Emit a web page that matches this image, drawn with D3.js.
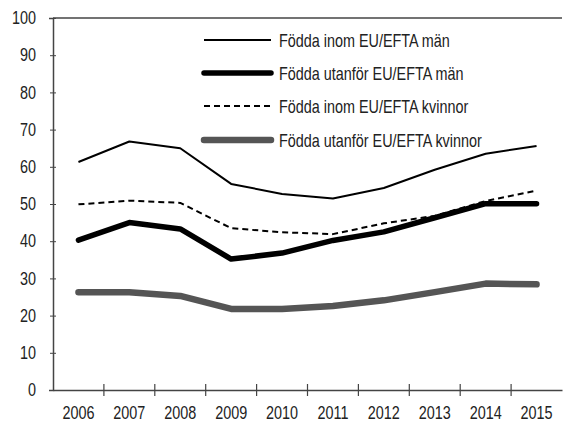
<!DOCTYPE html>
<html>
<head>
<meta charset="utf-8">
<script src="https://cdn.jsdelivr.net/npm/d3@7"></script>
<style>
  body { margin: 0; background: #fff; }
  svg text { font-family: "Liberation Sans", Arial, sans-serif; fill: #222; }
</style>
</head>
<body>
<div id="chart-area"></div>
<script>
// data
var years = ["2006","2007","2008","2009","2010","2011","2012","2013","2014","2015"];
var inomMan      = [61.3, 66.8, 65.0, 55.4, 52.7, 51.5, 54.3, 59.2, 63.5, 65.6];
var utanforMan   = [40.3, 45.0, 43.3, 35.2, 36.8, 40.2, 42.5, 46.3, 50.1, 50.1];
var inomKvinnor  = [49.9, 50.9, 50.3, 43.5, 42.4, 41.9, 44.8, 46.8, 50.8, 53.6];
var utanforKvinnor = [26.3, 26.3, 25.3, 21.8, 21.8, 22.6, 24.1, 26.3, 28.6, 28.4];
var yTicks = [0,10,20,30,40,50,60,70,80,90,100];

var series = [
  {name: "Födda inom EU/EFTA män", values: inomMan, color: "#000", width: 2, dash: null},
  {name: "Födda utanför EU/EFTA män", values: utanforMan, color: "#000", width: 5.5, dash: null},
  {name: "Födda inom EU/EFTA kvinnor", values: inomKvinnor, color: "#000", width: 2, dash: "6,4"},
  {name: "Födda utanför EU/EFTA kvinnor", values: utanforKvinnor, color: "#555", width: 6.5, dash: null}
];

var W = 563, H = 421;
var mLeft = 53, mRight = 562, mTop = 18, mBottom = 390;
var squeeze = 0.8;   // narrow look of the original font

var svg = d3.select("#chart-area")
    .append("svg")
    .attr("width", W)
    .attr("height", H);

var x = d3.scaleBand().domain(years).range([mLeft, mRight]);
var y = d3.scaleLinear().domain([0, 100]).range([mBottom, mTop]);

// top border
svg.append("line")
    .attr("x1", mLeft).attr("x2", mRight)
    .attr("y1", mTop).attr("y2", mTop)
    .attr("stroke", "#444").attr("stroke-width", 1.5);

// y axis
var yAxis = svg.append("g")
    .attr("transform", "translate(" + mLeft + ",0)")
    .call(d3.axisLeft(y).tickValues(yTicks).tickSize(4));
yAxis.select(".domain").attr("stroke", "#444").attr("stroke-width", 1.5);
yAxis.selectAll(".tick line").attr("stroke", "#444").attr("x1", -3).attr("x2", 3);
yAxis.selectAll(".tick text")
    .attr("x", 0)
    .attr("font-size", 18)
    .attr("fill", "#222")
    .attr("transform", "translate(-17,0) scale(" + squeeze + ",1)");
yAxis.attr("font-family", null);

// x axis: ticks between categories
var xAxis = svg.append("g")
    .attr("transform", "translate(0," + mBottom + ")")
    .call(d3.axisBottom(x).tickSize(0));
xAxis.select(".domain").attr("stroke", "#444").attr("stroke-width", 1.5);
xAxis.selectAll(".tick text")
    .attr("y", 0).attr("dy", 0)
    .attr("font-size", 18)
    .attr("fill", "#222")
    .attr("transform", "translate(0,29) scale(" + squeeze + ",1)");
xAxis.selectAll(".sep")
    .data(years.slice(1))
    .enter().append("line")
    .attr("class", "sep")
    .attr("x1", d => x(d)).attr("x2", d => x(d))
    .attr("y1", -6).attr("y2", 6)
    .attr("stroke", "#444").attr("stroke-width", 1.2);
xAxis.attr("font-family", null);

// lines
var line = d3.line()
    .x((d, i) => x(years[i]) + x.bandwidth() / 2)
    .y(d => y(d));

series.forEach(function(s) {
  svg.append("path")
      .datum(s.values)
      .attr("d", line)
      .attr("fill", "none")
      .attr("stroke", s.color)
      .attr("stroke-width", s.width)
      .attr("stroke-dasharray", s.dash)
      .attr("stroke-linecap", s.width > 3 ? "round" : "butt")
      .attr("stroke-linejoin", "round");
});

// legend
var rowY = [40, 73, 106, 140];
series.forEach(function(s, i) {
  svg.append("line")
      .attr("x1", 204).attr("x2", 271)
      .attr("y1", rowY[i]).attr("y2", rowY[i])
      .attr("stroke", s.color)
      .attr("stroke-width", s.width)
      .attr("stroke-dasharray", s.dash)
      .attr("stroke-linecap", s.width > 3 ? "round" : "butt");
  svg.append("text")
      .attr("transform", "translate(279," + (rowY[i] + 7) + ") scale(" + squeeze + ",1)")
      .attr("font-size", 18)
      .text(s.name);
});
</script>
</body>
</html>
